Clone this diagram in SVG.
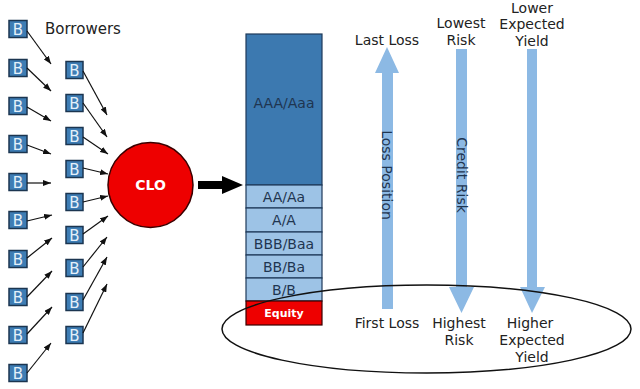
<svg xmlns="http://www.w3.org/2000/svg" width="640" height="389" viewBox="0 0 640 389">
<defs>
<style>
.b rect{fill:#3e7db4;stroke:#1b3550;stroke-width:1.5}
.b text{font-family:"DejaVu Sans",Verdana,sans-serif;font-size:15px;fill:#e4f0fa;text-anchor:middle}
.ln{stroke:#111;stroke-width:1.2;fill:none;marker-end:url(#ah)}
.tr{fill:#9dc3e6;stroke:#1f3a5a;stroke-width:1.2}
.tl{font-family:"DejaVu Sans",Verdana,sans-serif;font-size:14px;fill:#1f3550;text-anchor:middle}
.rt{font-family:"DejaVu Sans",Verdana,sans-serif;font-size:14px;fill:#222;text-anchor:middle}
.ba{fill:#8cb9e4}
</style>
<marker id="ah" markerUnits="userSpaceOnUse" markerWidth="8" markerHeight="6" refX="8" refY="3" orient="auto">
<path d="M0,0 L8,3 L0,6 z" fill="#111"/>
</marker>
</defs>
<rect width="640" height="389" fill="#fff"/>
<text x="45" y="34" font-family="DejaVu Sans,Verdana,sans-serif" font-size="15" fill="#222">Borrowers</text>

<g id="borrowers-left">
<g class="b" id="bl1"><rect x="9" y="20.5" width="18" height="17"/><text x="18" y="34.5">B</text></g>
<g class="b" id="bl2"><rect x="9" y="59.5" width="18" height="17"/><text x="18" y="73.5">B</text></g>
<g class="b" id="bl3"><rect x="9" y="97.5" width="18" height="17"/><text x="18" y="111.5">B</text></g>
<g class="b" id="bl4"><rect x="9" y="135.5" width="18" height="17"/><text x="18" y="149.5">B</text></g>
<g class="b" id="bl5"><rect x="9" y="173.5" width="18" height="17"/><text x="18" y="187.5">B</text></g>
<g class="b" id="bl6"><rect x="9" y="211.5" width="18" height="17"/><text x="18" y="225.5">B</text></g>
<g class="b" id="bl7"><rect x="9" y="250.5" width="18" height="17"/><text x="18" y="264.5">B</text></g>
<g class="b" id="bl8"><rect x="9" y="288.5" width="18" height="17"/><text x="18" y="302.5">B</text></g>
<g class="b" id="bl9"><rect x="9" y="326.5" width="18" height="17"/><text x="18" y="340.5">B</text></g>
<g class="b" id="bl10"><rect x="9" y="364.5" width="18" height="17"/><text x="18" y="378.5">B</text></g>
</g>

<g id="borrowers-right">
<g class="b" id="br1"><rect x="66" y="61.5" width="17" height="17"/><text x="74.5" y="75.5">B</text></g>
<g class="b" id="br2"><rect x="66" y="94.5" width="17" height="17"/><text x="74.5" y="108.5">B</text></g>
<g class="b" id="br3"><rect x="66" y="127.5" width="17" height="17"/><text x="74.5" y="141.5">B</text></g>
<g class="b" id="br4"><rect x="66" y="160.5" width="17" height="17"/><text x="74.5" y="174.5">B</text></g>
<g class="b" id="br5"><rect x="66" y="193.5" width="17" height="17"/><text x="74.5" y="207.5">B</text></g>
<g class="b" id="br6"><rect x="66" y="226.5" width="17" height="17"/><text x="74.5" y="240.5">B</text></g>
<g class="b" id="br7"><rect x="66" y="259.5" width="17" height="17"/><text x="74.5" y="273.5">B</text></g>
<g class="b" id="br8"><rect x="66" y="293.5" width="17" height="17"/><text x="74.5" y="307.5">B</text></g>
<g class="b" id="br9"><rect x="66" y="326.5" width="17" height="17"/><text x="74.5" y="340.5">B</text></g>
</g>

<g id="connectors">
<line class="ln" x1="27" y1="31" x2="51" y2="64"/>
<line class="ln" x1="27" y1="68" x2="51" y2="91"/>
<line class="ln" x1="27" y1="107" x2="51" y2="121"/>
<line class="ln" x1="27" y1="145" x2="51" y2="154"/>
<line class="ln" x1="27" y1="183" x2="51" y2="183"/>
<line class="ln" x1="27" y1="221" x2="52" y2="215"/>
<line class="ln" x1="27" y1="258" x2="52" y2="238"/>
<line class="ln" x1="27" y1="297" x2="52" y2="271"/>
<line class="ln" x1="27" y1="334" x2="52" y2="307"/>
<line class="ln" x1="27" y1="373" x2="51" y2="343"/>
<line class="ln" x1="83" y1="71" x2="107" y2="115"/>
<line class="ln" x1="83" y1="103" x2="107" y2="137"/>
<line class="ln" x1="83" y1="137" x2="108" y2="154"/>
<line class="ln" x1="83" y1="168" x2="108" y2="174"/>
<line class="ln" x1="83" y1="202" x2="108" y2="196"/>
<line class="ln" x1="83" y1="234" x2="108" y2="216"/>
<line class="ln" x1="83" y1="267" x2="107" y2="237"/>
<line class="ln" x1="83" y1="300" x2="107" y2="257"/>
<line class="ln" x1="83" y1="333" x2="107" y2="284"/>
<polygon points="198,181 222,181 222,176 243,185 222,194 222,189 198,189" fill="#000"/>
</g>

<g id="clo">
<circle cx="150.5" cy="185" r="42.5" fill="#ee0000" stroke="#3a0000" stroke-width="1.5"/>
<text x="150.5" y="190" font-family="DejaVu Sans,Verdana,sans-serif" font-size="14" font-weight="bold" fill="#fff" text-anchor="middle">CLO</text>
</g>

<g id="tranches">
<rect x="246" y="34" width="76" height="151" fill="#3c79b0" stroke="#1f3a5a" stroke-width="1.2"/>
<text class="tl" x="284" y="108">AAA/Aaa</text>
<rect class="tr" x="246" y="185" width="76" height="23"/>
<text class="tl" x="284" y="201.5">AA/Aa</text>
<rect class="tr" x="246" y="208" width="76" height="24"/>
<text class="tl" x="284" y="225">A/A</text>
<rect class="tr" x="246" y="232" width="76" height="23"/>
<text class="tl" x="284" y="248.5">BBB/Baa</text>
<rect class="tr" x="246" y="255" width="76" height="23"/>
<text class="tl" x="284" y="271.5">BB/Ba</text>
<rect class="tr" x="246" y="278" width="76" height="23"/>
<text class="tl" x="284" y="294.5">B/B</text>
<rect x="246" y="301" width="76" height="24" fill="#ee0000" stroke="#3a0000" stroke-width="1.2"/>
<text x="284" y="317" font-family="DejaVu Sans,Verdana,sans-serif" font-size="11" font-weight="bold" fill="#fff" text-anchor="middle">Equity</text>
</g>

<g id="loss-position">
<polygon class="ba" points="382,309 382,73 375,73 387,47 399,73 393,73 393,309"/>
<text class="tl" transform="translate(387,175) rotate(90)" dy="5">Loss Position</text>
<text class="rt" x="387" y="45">Last Loss</text>
<text class="rt" x="387" y="328">First Loss</text>
</g>

<g id="credit-risk">
<polygon class="ba" points="456,49 467,49 467,287 474,287 461.5,313 449,287 456,287"/>
<text class="tl" transform="translate(461.5,175) rotate(90)" dy="5">Credit Risk</text>
<text class="rt" x="461" y="28">Lowest</text>
<text class="rt" x="461" y="45">Risk</text>
<text class="rt" x="459" y="328">Highest</text>
<text class="rt" x="459" y="345">Risk</text>
</g>

<g id="yield">
<polygon class="ba" points="527,49 537,49 537,287 545,287 532,313 520,287 527,287"/>
<text class="rt" x="532" y="12.5">Lower</text>
<text class="rt" x="532" y="29">Expected</text>
<text class="rt" x="532" y="45.5">Yield</text>
<text class="rt" x="530" y="328">Higher</text>
<text class="rt" x="532" y="345">Expected</text>
<text class="rt" x="532" y="362">Yield</text>
</g>

<g id="highlight">
<ellipse cx="426.5" cy="329" rx="204.5" ry="44" fill="none" stroke="#111" stroke-width="1.5"/>
</g>
</svg>
